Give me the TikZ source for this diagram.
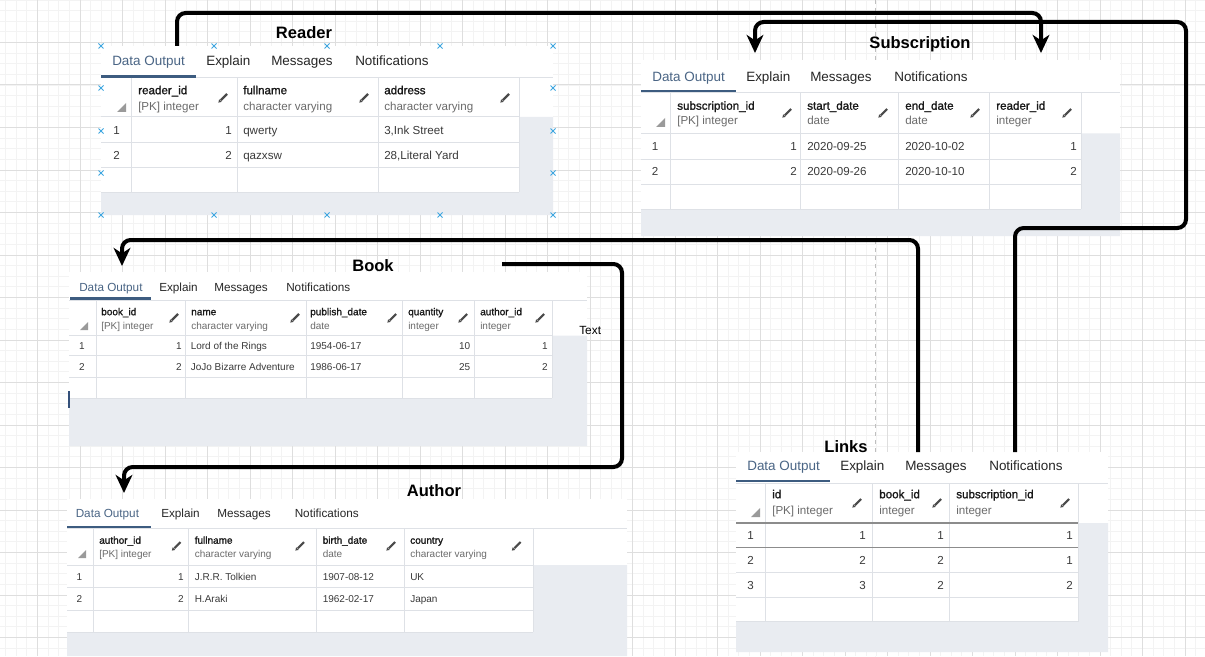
\documentclass[tikz,border=0pt]{standalone}
\usepackage{fontspec}
\setmainfont{Liberation Sans}
\newfontfamily\medfont[FakeBold=1.4]{Liberation Sans}
\usetikzlibrary{arrows.meta}

\definecolor{minorgrid}{HTML}{F3F3F3}
\definecolor{majorgrid}{HTML}{DEDEDE}
\definecolor{areagray}{HTML}{E9ECF1}
\definecolor{cellline}{HTML}{DEE1E6}
\definecolor{selline}{HTML}{8C8C8C}
\definecolor{tabblue}{HTML}{4A6585}
\definecolor{tabline}{HTML}{3D5C80}
\definecolor{tabtext}{HTML}{262626}
\definecolor{typegray}{HTML}{6B6B6B}
\definecolor{celltext}{HTML}{3A3A3A}
\definecolor{handleblue}{HTML}{3EA6E0}
\definecolor{pencilgray}{HTML}{4A4A4A}
\definecolor{cornergray}{HTML}{9A9A9A}
\definecolor{cursorblue}{HTML}{34507A}

\newcommand{\bigtabfont}{\fontsize{10.1pt}{12pt}\selectfont}
\newcommand{\bigcellfont}{\fontsize{8.7pt}{10pt}\selectfont}
\newcommand{\smalltabfont}{\fontsize{8.8pt}{10pt}\selectfont}
\newcommand{\smallcellfont}{\fontsize{7.5pt}{9pt}\selectfont}
\newcommand{\titlefont}{\fontsize{12.4pt}{14pt}\selectfont\bfseries}

% little edit pencil of the column headers
\newcommand{\pencil}[2]{%
  \draw[pencilgray, line width=1.6pt] (#1-2.2,#2+2.2) -- (#1+4,#2-4);
  \fill[pencilgray] (#1-4.6,#2+4.6) -- (#1-3.9,#2+1.3) -- (#1-1.3,#2+3.9) -- cycle;}

\tikzstyle{panel}=[fill=white]
\tikzstyle{emptyarea}=[fill=areagray]
\tikzstyle{cellrule}=[draw=cellline, line width=0.75pt]
\tikzstyle{selrule}=[draw=selline, line width=1.2pt]
\tikzstyle{activetab}=[draw=tabline, line width=1.6pt]
\tikzstyle{txt}=[inner sep=0pt, text height=1.6ex, text depth=0.4ex]
\tikzstyle{tabon}=[txt, anchor=west, text=tabblue]
\tikzstyle{taboff}=[txt, anchor=west, text=tabtext]
\tikzstyle{colname}=[txt, anchor=west, text=black!90]
\tikzstyle{coltype}=[txt, anchor=west, text=typegray]
\tikzstyle{cell}=[txt, anchor=west, text=celltext]
\tikzstyle{num}=[txt, anchor=east, text=celltext]
\tikzstyle{rownum}=[txt, anchor=center, text=celltext]
\tikzstyle{title}=[inner sep=0pt, font=\titlefont]
\tikzstyle{handle}=[draw=handleblue, line width=0.6pt]
\tikzstyle{fk}=[line width=3pt, rounded corners=6.5pt,
  -{Stealth[length=13.5pt, width=12.5pt, inset=4pt]}]

\begin{document}
\begin{tikzpicture}[x=0.75pt, y=-0.75pt]
  \useasboundingbox (0,0) rectangle (1205,656);
  \clip (0,0) rectangle (1205,656);

  % grid paper
  \fill[white] (0,0) rectangle (1205,656);
  \foreach \j in {-3,...,110} \draw[minorgrid, line width=0.6pt] ({37.5+10.625*\j},0) -- ++(0,656);
  \foreach \j in {0,...,62} \draw[minorgrid, line width=0.6pt] (0,{10.625*\j}) -- ++(1205,0);
  \foreach \j in {0,...,27} \draw[majorgrid, line width=0.75pt] ({37.5+42.5*\j},0) -- ++(0,656);
  \foreach \j in {0,...,15} \draw[majorgrid, line width=0.75pt] (0,{42.5*\j}) -- ++(1205,0);
  \draw[black!25, dashed, line width=0.6pt] (875,0) -- (875,656);

  % Reader
  \fill[panel] (101,46) rectangle (553,215);
  \fill[emptyarea] (101,192) rectangle (553,215) (519,117) rectangle (553,192);
  \draw[cellrule] (101,78) -- (553,78);
  \draw[activetab] (101,76.5) -- (196,76.5);
  \node[tabon, font=\bigtabfont] (rd-tab0) at (112,61.5) {Data Output};
  \foreach \tb/\xx [count=\i] in {Explain/206, Messages/271, Notifications/355}
    \node[taboff, font=\bigtabfont] (rd-tab\i) at (\xx,61.5) {\tb};
  \foreach \yy in {117,142.5,167,192} \draw[cellrule] (101,\yy) -- (519,\yy);
  \foreach \xx in {131,237,378,519} \draw[cellrule] (\xx,78) -- (\xx,192);
  \fill[cornergray] (126,103) -- (126,112) -- (117,112) -- cycle;
  \foreach \nm/\ty/\xx [count=\i] in {reader\_id/{[PK] integer}/138, fullname/character varying/243, address/character varying/384} {
    \node[colname, font=\medfont\bigcellfont] (rd-col\i) at (\xx,90) {\nm};
    \node[coltype, font=\bigcellfont] (rd-type\i) at (\xx,106) {\ty};
  }
  \foreach \xx in {223,364,505} {\pencil{\xx}{98}}
  \foreach \n/\a/\b/\yy in {1/qwerty/{3,Ink Street}/130, 2/qazxsw/{28,Literal Yard}/155} {
    \node[rownum, font=\bigcellfont] (rd-row\n) at (116.5,\yy) {\n};
    \node[num, font=\bigcellfont] (rd-id\n) at (232,\yy) {\n};
    \node[cell, font=\bigcellfont] (rd-name\n) at (243,\yy) {\a};
    \node[cell, font=\bigcellfont] (rd-addr\n) at (384,\yy) {\b};
  }
  \foreach \xx in {101,214,327,440,553} \foreach \yy in {46,215}
    {\draw[handle] (\xx-2.5,\yy-2.5) -- (\xx+2.5,\yy+2.5) (\xx-2.5,\yy+2.5) -- (\xx+2.5,\yy-2.5);}
  \foreach \xx in {101,553} \foreach \yy in {88,131,173}
    {\draw[handle] (\xx-2.5,\yy-2.5) -- (\xx+2.5,\yy+2.5) (\xx-2.5,\yy+2.5) -- (\xx+2.5,\yy-2.5);}

  % Subscription
  \fill[panel] (641,60) rectangle (1120,236);
  \fill[emptyarea] (641,209) rectangle (1120,236) (1081,133.5) rectangle (1120,209);
  \draw[cellrule] (641,92.5) -- (1120,92.5);
  \draw[activetab] (641,91) -- (736,91);
  \node[tabon, font=\bigtabfont] (sb-tab0) at (652,77) {Data Output};
  \foreach \tb/\xx [count=\i] in {Explain/746, Messages/810, Notifications/894}
    \node[taboff, font=\bigtabfont] (sb-tab\i) at (\xx,77) {\tb};
  \foreach \yy in {133.5,159,184.5,209} \draw[cellrule] (641,\yy) -- (1081,\yy);
  \foreach \xx in {670,800,898,989,1081} \draw[cellrule] (\xx,92.5) -- (\xx,209);
  \fill[cornergray] (665,118) -- (665,127) -- (656,127) -- cycle;
  \foreach \nm/\ty/\xx [count=\i] in {subscription\_id/{[PK] integer}/677, start\_date/date/807, end\_date/date/905, reader\_id/integer/996} {
    \node[colname, font=\medfont\bigcellfont] (sb-col\i) at (\xx,105.5) {\nm};
    \node[coltype, font=\bigcellfont] (sb-type\i) at (\xx,120.5) {\ty};
  }
  \foreach \xx in {787,883,975,1067} {\pencil{\xx}{113}}
  \foreach \n/\a/\b/\yy in {1/2020-09-25/2020-10-02/146, 2/2020-09-26/2020-10-10/171} {
    \node[rownum, font=\bigcellfont] (sb-row\n) at (655,\yy) {\n};
    \node[num, font=\bigcellfont] (sb-id\n) at (797,\yy) {\n};
    \node[cell, font=\bigcellfont] (sb-start\n) at (807,\yy) {\a};
    \node[cell, font=\bigcellfont] (sb-end\n) at (905,\yy) {\b};
    \node[num, font=\bigcellfont] (sb-rd\n) at (1077,\yy) {\n};
  }

  % Book
  \fill[panel] (69,272) rectangle (587,446);
  \fill[emptyarea] (69,398) rectangle (587,446) (552,335.5) rectangle (587,398);
  \draw[cellrule] (69,300) -- (587,300);
  \draw[activetab] (70,298.5) -- (151,298.5);
  \node[tabon, font=\smalltabfont] (bk-tab0) at (79,287) {Data Output};
  \foreach \tb/\xx [count=\i] in {Explain/159, Messages/214, Notifications/286}
    \node[taboff, font=\smalltabfont] (bk-tab\i) at (\xx,287) {\tb};
  \foreach \yy in {335.5,355.5,377,398} \draw[cellrule] (69,\yy) -- (552,\yy);
  \foreach \xx in {96,185,306,402,474,552} \draw[cellrule] (\xx,300) -- (\xx,398);
  \fill[cornergray] (88,322) -- (88,330) -- (80,330) -- cycle;
  \foreach \nm/\ty/\xx [count=\i] in {book\_id/{[PK] integer}/101, name/character varying/191, publish\_date/date/310, quantity/integer/408, author\_id/integer/480} {
    \node[colname, font=\medfont\smallcellfont] (bk-col\i) at (\xx,311) {\nm};
    \node[coltype, font=\smallcellfont] (bk-type\i) at (\xx,325) {\ty};
  }
  \foreach \xx in {174,295,392,463,540} {\pencil{\xx}{318}}
  \foreach \n/\a/\b/\c/\yy in {1/Lord of the Rings/1954-06-17/10/345.5, 2/JoJo Bizarre Adventure/1986-06-17/25/366} {
    \node[rownum, font=\smallcellfont] (bk-row\n) at (82,\yy) {\n};
    \node[num, font=\smallcellfont] (bk-id\n) at (182,\yy) {\n};
    \node[cell, font=\smallcellfont] (bk-name\n) at (190.5,\yy) {\a};
    \node[cell, font=\smallcellfont] (bk-date\n) at (310,\yy) {\b};
    \node[num, font=\smallcellfont] (bk-qty\n) at (470.5,\yy) {\c};
    \node[num, font=\smallcellfont] (bk-au\n) at (548,\yy) {\n};
  }
  \draw[cursorblue, line width=1.5pt] (68.5,391) -- (68.5,408);
  \node[txt, anchor=west, font=\fontsize{8.9pt}{10pt}\selectfont] (text) at (579,330) {Text};

  % Author
  \fill[panel] (67,499) rectangle (627,656);
  \fill[emptyarea] (67,632) rectangle (627,656) (533,565) rectangle (627,632);
  \draw[cellrule] (67,528) -- (627,528);
  \draw[activetab] (67,527) -- (151,527);
  \node[tabon, font=\smalltabfont] (au-tab0) at (75.5,513.5) {Data Output};
  \foreach \tb/\xx [count=\i] in {Explain/161, Messages/217, Notifications/294.5}
    \node[taboff, font=\smalltabfont] (au-tab\i) at (\xx,513.5) {\tb};
  \foreach \yy in {565,587,610,632} \draw[cellrule] (67,\yy) -- (533,\yy);
  \foreach \xx in {93,188,316.5,404,533} \draw[cellrule] (\xx,528) -- (\xx,632);
  \fill[cornergray] (86,550) -- (86,558) -- (78,558) -- cycle;
  \foreach \nm/\ty/\xx [count=\i] in {author\_id/{[PK] integer}/99, fullname/character varying/194.5, birth\_date/date/322.5, country/character varying/410} {
    \node[colname, font=\medfont\smallcellfont] (au-col\i) at (\xx,539.5) {\nm};
    \node[coltype, font=\smallcellfont] (au-type\i) at (\xx,553.5) {\ty};
  }
  \foreach \xx in {176.5,300,391,516.5} {\pencil{\xx}{546}}
  \foreach \n/\a/\b/\c/\yy in {1/J.R.R. Tolkien/1907-08-12/UK/576, 2/H.Araki/1962-02-17/Japan/598} {
    \node[rownum, font=\smallcellfont] (au-row\n) at (79.5,\yy) {\n};
    \node[num, font=\smallcellfont] (au-id\n) at (184,\yy) {\n};
    \node[cell, font=\smallcellfont] (au-name\n) at (194.5,\yy) {\a};
    \node[cell, font=\smallcellfont] (au-birth\n) at (322.5,\yy) {\b};
    \node[cell, font=\smallcellfont] (au-country\n) at (410,\yy) {\c};
  }

  % Links
  \fill[panel] (736,452) rectangle (1108,652);
  \fill[emptyarea] (736,621.5) rectangle (1108,652) (1078,523) rectangle (1108,621.5);
  \draw[cellrule] (736,483) -- (1108,483);
  \draw[activetab] (736,481) -- (830,481);
  \node[tabon, font=\bigtabfont] (lk-tab0) at (747,466) {Data Output};
  \foreach \tb/\xx [count=\i] in {Explain/840, Messages/905, Notifications/989}
    \node[taboff, font=\bigtabfont] (lk-tab\i) at (\xx,466) {\tb};
  \foreach \yy in {572.5,597,621.5} \draw[cellrule] (736,\yy) -- (1078,\yy);
  \foreach \xx in {765,872,949,1078} \draw[cellrule] (\xx,483) -- (\xx,621.5);
  \foreach \yy in {523,547.5} \draw[selrule] (736,\yy) -- (1078,\yy);
  \fill[cornergray] (760,508) -- (760,517) -- (751,517) -- cycle;
  \foreach \nm/\ty/\xx [count=\i] in {id/{[PK] integer}/772, book\_id/integer/879, subscription\_id/integer/956} {
    \node[colname, font=\medfont\bigcellfont] (lk-col\i) at (\xx,494) {\nm};
    \node[coltype, font=\bigcellfont] (lk-type\i) at (\xx,510) {\ty};
  }
  \foreach \xx in {857,937,1065} {\pencil{\xx}{503}}
  \foreach \n/\a/\b/\yy in {1/1/1/535, 2/2/1/560, 3/2/2/585} {
    \node[rownum, font=\bigcellfont] (lk-row\n) at (750.5,\yy) {\n};
    \node[num, font=\bigcellfont] (lk-id\n) at (866,\yy) {\n};
    \node[num, font=\bigcellfont] (lk-bk\n) at (944,\yy) {\a};
    \node[num, font=\bigcellfont] (lk-sb\n) at (1073,\yy) {\b};
  }

  % titles
  \node[title] (reader) at (304,33) {Reader};
  \node[title] (subscription) at (920,44) {Subscription};
  \node[title] (book) at (373,266) {Book};
  \node[title] (author) at (434,491) {Author};
  \node[title] (links) at (846,447) {Links};

  % references
  \coordinate (rd-out) at (177,46);
  \coordinate (sb-in-rd) at (1041,53);
  \coordinate (lk-out-sb) at (1015,452);
  \coordinate (sb-in-id) at (755,53);
  \coordinate (lk-out-bk) at (918,452);
  \coordinate (bk-in) at (122,266);
  \coordinate (bk-out) at (502,264);
  \coordinate (au-in) at (124,493);

  \draw[fk] (rd-out) -- ++(0,-33) -| (sb-in-rd);
  \draw[fk] (lk-out-sb) -- (1015,228) -- (1186,228) -- (1186,22) -| (sb-in-id);
  \draw[fk] (lk-out-bk) -- (918,240) -| (bk-in);
  \draw[fk] (bk-out) -- (622,264) -- (622,467) -| (au-in);
\end{tikzpicture}
\end{document}
